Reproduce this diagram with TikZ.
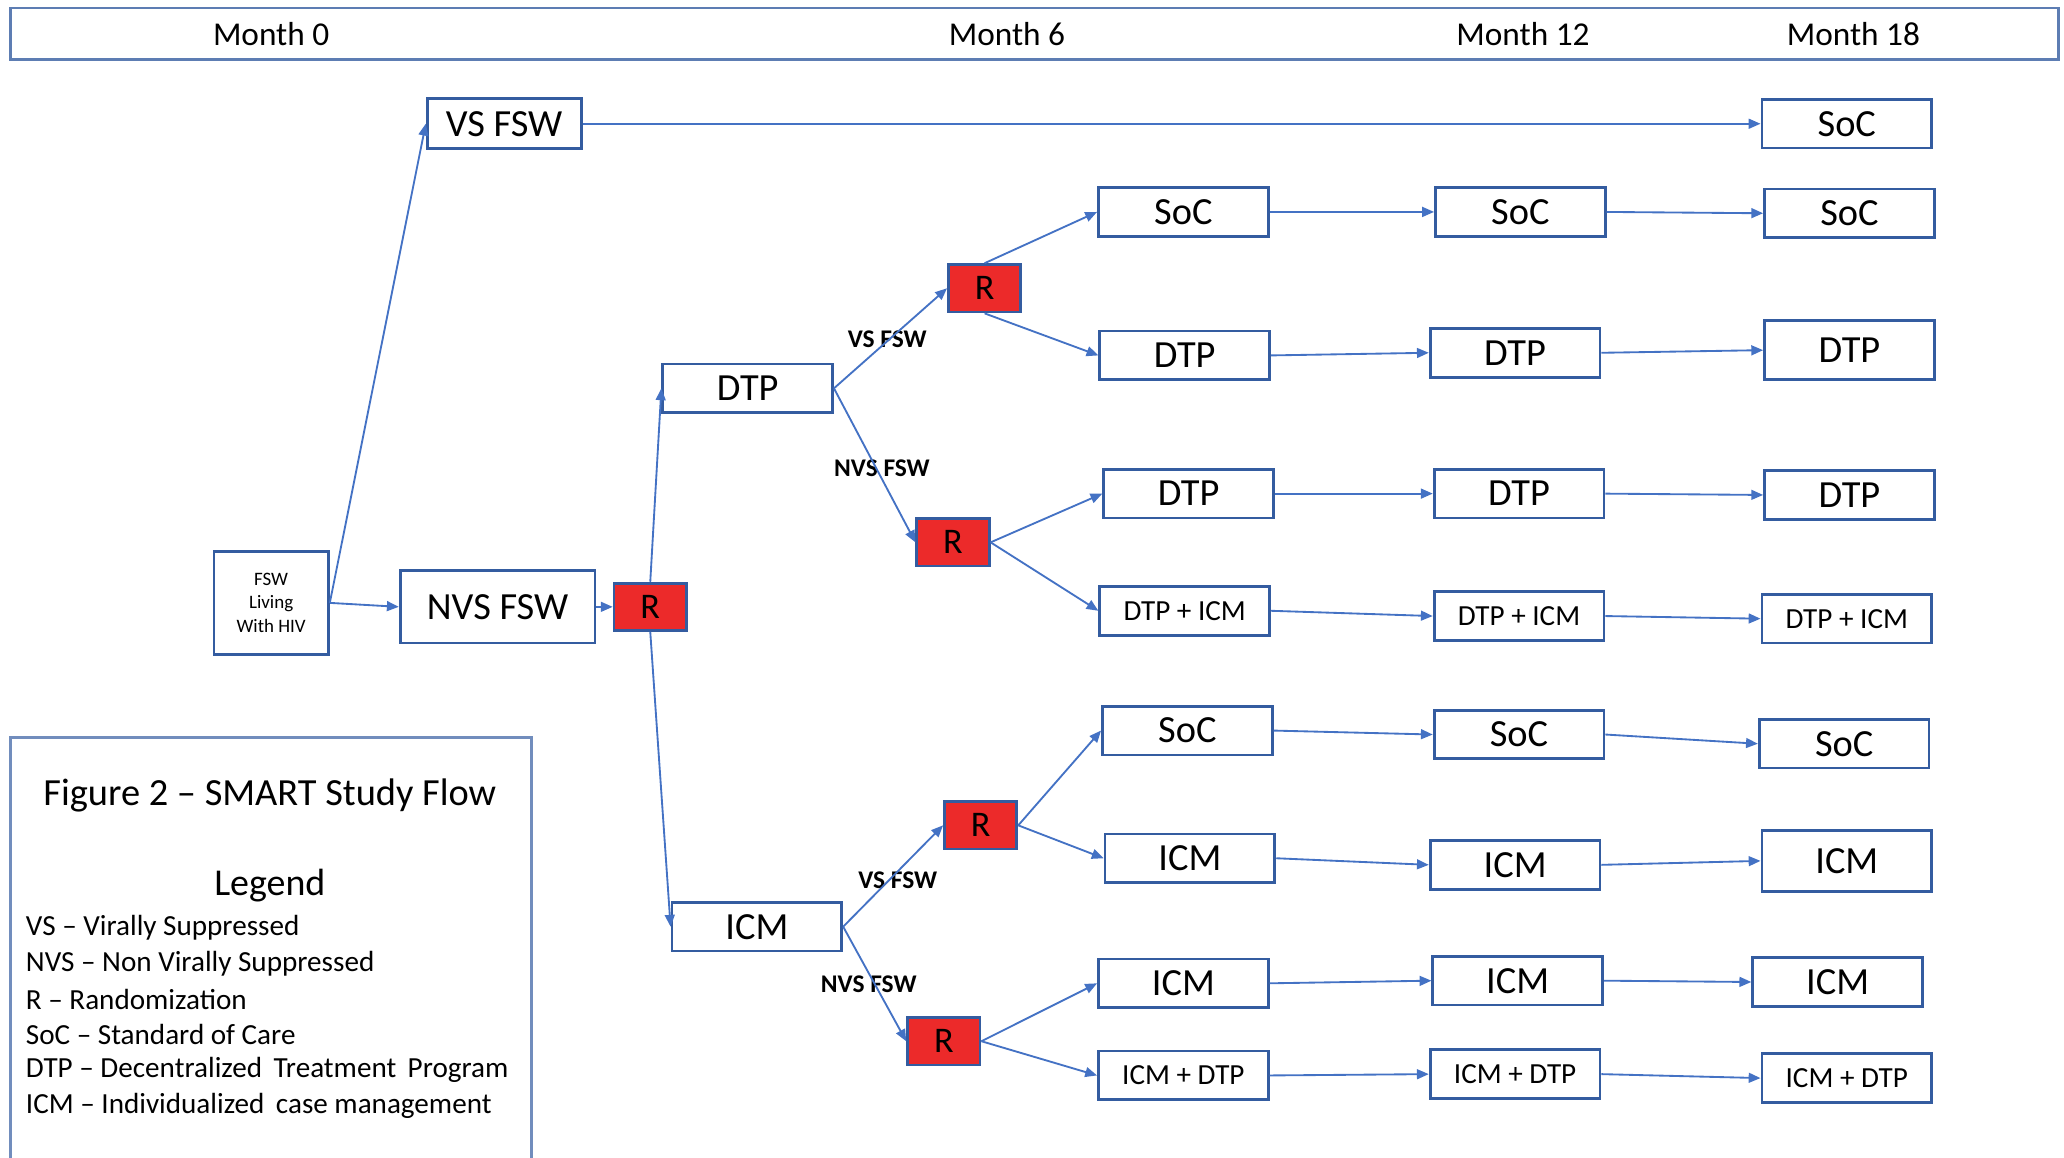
\documentclass[tikz,border=0pt]{standalone}
\usepackage{fontspec}
\setmainfont{Carlito}
\usetikzlibrary{arrows.meta}

\definecolor{boxblue}{RGB}{52,92,160}
\definecolor{lineblue}{RGB}{68,114,196}
\definecolor{randred}{RGB}{236,42,42}

\tikzset{
    arm/.style={draw=boxblue, line width=0.6pt, fill=white, minimum width=12.9mm,
        minimum height=3.7mm, inner sep=0pt, font=\fontsize{8.3}{10}\selectfont},
    armsmall/.style={arm, font=\fontsize{6.3}{8}\selectfont},
    randbox/.style={draw=boxblue, line width=0.6pt, fill=randred, minimum width=5.5mm,
        minimum height=3.6mm, inner sep=0pt, font=\fontsize{7.8}{9}\selectfont},
    flow/.style={draw=lineblue, line width=0.4pt, -{Triangle[length=0.9mm,width=0.75mm]}},
    branchlabel/.style={inner sep=0pt, font=\bfseries\fontsize{5.5}{6}\selectfont},
    monthlabel/.style={inner sep=0pt, font=\fontsize{7.2}{9}\selectfont},
    legendline/.style={anchor=west, inner sep=0pt, font=\fontsize{6.3}{8}\selectfont}
}

\begin{document}
\begin{tikzpicture}[x=0.1mm, y=-0.1mm]
    \useasboundingbox (0,0) rectangle (1568,879);

    % time line
    \draw[draw=boxblue!80, line width=0.6pt] (8,6) rectangle (1564,45);
    \node[monthlabel] (month0) at (206,26) {Month 0};
    \node[monthlabel] (month6) at (765,26) {Month 6};
    \node[monthlabel] (month12) at (1157,26) {Month 12};
    \node[monthlabel] (month18) at (1408,26) {Month 18};

    % enrolment
    \node[arm, minimum width=8.7mm, minimum height=7.8mm, align=center,
        font=\fontsize{4.1}{5.1}\selectfont] (start) at (206,458) {FSW\\Living\\With HIV};
    \node[arm, minimum width=11.7mm, minimum height=3.8mm] (vsfsw) at (383,94) {VS FSW};
    \node[arm, minimum width=14.8mm, minimum height=5.5mm] (nvsfsw) at (378,461) {NVS FSW};
    \node[randbox] (r0) at (494,461) {R};

    % first randomization
    \node[arm] (dtp) at (568,295) {DTP};
    \node[arm] (icm) at (575,704) {ICM};
    \node[randbox] (rdv) at (748,219) {R};
    \node[randbox] (rdn) at (724,412) {R};
    \node[randbox] (riv) at (745,627) {R};
    \node[randbox] (rin) at (717,791) {R};

    \node[branchlabel] (ldv) at (674,258) {VS FSW};
    \node[branchlabel] (ldn) at (670,356) {NVS FSW};
    \node[branchlabel] (liv) at (682,669) {VS FSW};
    \node[branchlabel] (lin) at (660,748) {NVS FSW};

    % month 6
    \node[arm] (sixa) at (899,161) {SoC};
    \node[arm] (sixb) at (900,270) {DTP};
    \node[arm] (sixc) at (903,375) {DTP};
    \node[armsmall] (sixd) at (900,464) {DTP + ICM};
    \node[arm] (sixe) at (902,555) {SoC};
    \node[arm] (sixf) at (904,652) {ICM};
    \node[arm] (sixg) at (899,747) {ICM};
    \node[armsmall] (sixh) at (899,817) {ICM + DTP};

    % month 12
    \node[arm] (twelvea) at (1155,161) {SoC};
    \node[arm] (twelveb) at (1151,268) {DTP};
    \node[arm] (twelvec) at (1154,375) {DTP};
    \node[armsmall] (twelved) at (1154,468) {DTP + ICM};
    \node[arm] (twelvee) at (1154,558) {SoC};
    \node[arm] (twelvef) at (1151,657) {ICM};
    \node[arm] (twelveg) at (1153,745) {ICM};
    \node[armsmall] (twelveh) at (1151,816) {ICM + DTP};

    % month 18
    \node[arm] (eighteentop) at (1403,94) {SoC};
    \node[arm] (eighteena) at (1405,162) {SoC};
    \node[arm, minimum height=4.5mm] (eighteenb) at (1405,266) {DTP};
    \node[arm] (eighteenc) at (1405,376) {DTP};
    \node[armsmall] (eighteend) at (1403,470) {DTP + ICM};
    \node[arm] (eighteene) at (1401,565) {SoC};
    \node[arm, minimum height=4.6mm] (eighteenf) at (1403,654) {ICM};
    \node[arm] (eighteeng) at (1396,746) {ICM};
    \node[armsmall] (eighteenh) at (1403,819) {ICM + DTP};

    % connectors
    \draw[flow] (start.east) -- (vsfsw.west);
    \draw[flow] (start.east) -- (nvsfsw.west);
    \draw[flow] (nvsfsw.east) -- (r0.west);
    \draw[flow] (vsfsw.east) -- (eighteentop.west);
    \draw[flow] (r0.north) -- (dtp.west);
    \draw[flow] (r0.south) -- (icm.west);

    \draw[flow] (dtp.east) -- (rdv.west);
    \draw[flow] (dtp.east) -- (rdn.west);
    \draw[flow] (icm.east) -- (riv.west);
    \draw[flow] (icm.east) -- (rin.west);

    \draw[flow] (rdv.north) -- (sixa.west);
    \draw[flow] (rdv.south) -- (sixb.west);
    \draw[flow] (rdn.east) -- (sixc.west);
    \draw[flow] (rdn.east) -- (sixd.west);
    \draw[flow] (riv.east) -- (sixe.west);
    \draw[flow] (riv.east) -- (sixf.west);
    \draw[flow] (rin.east) -- (sixg.west);
    \draw[flow] (rin.east) -- (sixh.west);

    \draw[flow] (sixa.east) -- (twelvea.west);
    \draw[flow] (sixb.east) -- (twelveb.west);
    \draw[flow] (sixc.east) -- (twelvec.west);
    \draw[flow] (sixd.east) -- (twelved.west);
    \draw[flow] (sixe.east) -- (twelvee.west);
    \draw[flow] (sixf.east) -- (twelvef.west);
    \draw[flow] (sixg.east) -- (twelveg.west);
    \draw[flow] (sixh.east) -- (twelveh.west);

    \draw[flow] (twelvea.east) -- (eighteena.west);
    \draw[flow] (twelveb.east) -- (eighteenb.west);
    \draw[flow] (twelvec.east) -- (eighteenc.west);
    \draw[flow] (twelved.east) -- (eighteend.west);
    \draw[flow] (twelvee.east) -- (eighteene.west);
    \draw[flow] (twelvef.east) -- (eighteenf.west);
    \draw[flow] (twelveg.east) -- (eighteeng.west);
    \draw[flow] (twelveh.east) -- (eighteenh.west);

    % legend
    \draw[draw=boxblue!70, line width=0.6pt] (8,890) |- (404,560) -- (404,890);
    \node[inner sep=0pt, font=\fontsize{8.3}{10}\selectfont] (title) at (205,604) {Figure 2 -- SMART Study Flow};
    \node[inner sep=0pt, font=\fontsize{8.2}{10}\selectfont] (legend) at (205,673) {Legend};
    \node[legendline] (keyvs) at (19,705) {VS -- Virally Suppressed};
    \node[legendline] (keynvs) at (19,732) {NVS -- Non Virally Suppressed};
    \node[legendline] (keyr) at (19,759) {R -- Randomization};
    \node[legendline] (keysoc) at (19,786) {SoC -- Standard of Care};
    \node[legendline] (keydtp) at (19,813) {DTP -- Decentralized\ \,Treatment\ \,Program};
    \node[legendline] (keyicm) at (19,840) {ICM -- Individualized\ \,case management};

\end{tikzpicture}
\end{document}
